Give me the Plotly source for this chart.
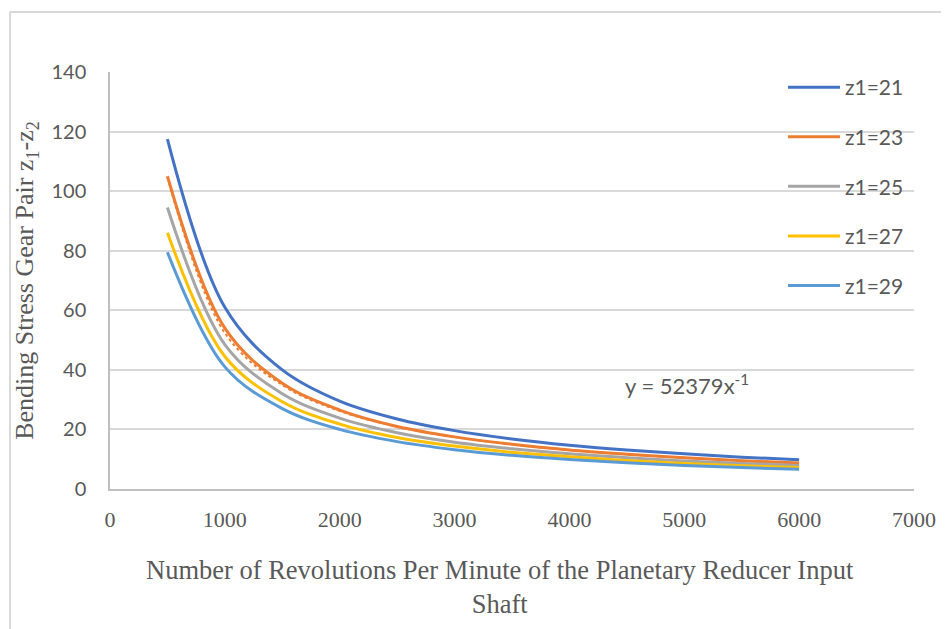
import plotly.graph_objects as go

# ---- data ----
rpm = [500, 1000, 1500, 2000, 2500, 3000, 3500, 4000, 4500, 5000, 5500, 6000]

z21 = [117.5, 61.0, 40.0, 29.5, 23.5, 19.6, 16.8, 14.7, 13.1, 11.8, 10.7, 9.8]
z23 = [105.0, 54.0, 35.5, 26.5, 21.0, 17.5, 15.0, 13.1, 11.7, 10.5, 9.5, 8.7]
z25 = [94.5, 48.5, 32.0, 23.8, 18.9, 15.7, 13.5, 11.8, 10.5, 9.4, 8.6, 7.9]
z27 = [86.0, 44.5, 29.3, 21.8, 17.3, 14.4, 12.3, 10.8, 9.6, 8.6, 7.8, 7.2]
z29 = [79.5, 41.0, 27.0, 20.0, 15.9, 13.2, 11.3, 9.9, 8.8, 7.9, 7.2, 6.6]

series_names = ["z1=21", "z1=23", "z1=25", "z1=27", "z1=29"]
series_values = [z21, z23, z25, z27, z29]
colors = ["#4472C4", "#ED7D31", "#A5A5A5", "#FFC000", "#5B9BD5"]

# power trendline shown on the z1=23 series (from the equation on the chart)
trend_coef = 52379
trend_vals = [trend_coef / x for x in rpm]

x_ticks = [0, 1000, 2000, 3000, 4000, 5000, 6000, 7000]
y_ticks = [0, 20, 40, 60, 80, 100, 120, 140]

fig = go.Figure()

for i, (name, vals, col) in enumerate(zip(series_names, series_values, colors)):
    fig.add_trace(go.Scatter(
        x=rpm, y=vals, name=name, mode="lines",
        line=dict(color=col, width=3, shape="spline"),
        legendgroup=name,
    ))
    if i == 1:
        fig.add_trace(go.Scatter(
            x=rpm, y=trend_vals, mode="lines", showlegend=False,
            line=dict(color="#ED7D31", width=2, dash="dot", shape="spline"),
            hoverinfo="skip",
        ))

# page body has an 8px offset; figure sized to fit the 949x629 window
W, H = 941, 621
L, R, T, B = 102, 35, 64, 140
pw = W - L - R
ph = H - T - B

def px2x(px):
    return (px - L) / pw

def py2y(py):
    return (H - B - py) / ph

grid = "#D9D9D9"
axis_col = "#BFBFBF"

fig.update_layout(
    width=W, height=H,
    margin=dict(l=L, r=R, t=T, b=B),
    paper_bgcolor="white", plot_bgcolor="white",
    showlegend=True,
    legend=dict(
        x=px2x(775), y=py2y(59), xanchor="left", yanchor="top",
        bgcolor="rgba(0,0,0,0)",
        font=dict(family="Lato, sans-serif", size=21, color="#595959"),
        tracegroupgap=19.3,
        itemwidth=52,
    ),
    xaxis=dict(
        range=[0, 7000], tickvals=x_ticks,
        showgrid=False, zeroline=False,
        showline=True, linecolor=axis_col, linewidth=1.5,
        ticks="outside", ticklen=10, tickcolor="rgba(0,0,0,0)",
        tickfont=dict(family="Liberation Serif, serif", size=22, color="#595959"),
    ),
    yaxis=dict(
        range=[0, 140], tickvals=y_ticks,
        showgrid=True, gridcolor=grid, gridwidth=1.5,
        zeroline=False,
        showline=True, linecolor=axis_col, linewidth=1.5,
        ticks="outside", ticklen=18, tickcolor="rgba(0,0,0,0)",
        tickfont=dict(family="Lato, sans-serif", size=20, color="#595959"),
        title=dict(
            text="Bending Stress Gear Pair z<sub>1</sub>-z<sub>2</sub>",
            font=dict(family="Liberation Serif, serif", size=26, color="#595959"),
            standoff=10,
        ),
    ),
    annotations=[
        dict(
            x=4470, y=35, xref="x", yref="y", xanchor="left", yanchor="middle",
            text="y = 52379x<sup>-1</sup>", showarrow=False,
            font=dict(family="Lato, sans-serif", size=22, color="#595959"),
        ),
        # x-axis title (centred on the chart area as in the reference)
        dict(
            x=px2x(492), y=py2y(545), xref="paper", yref="paper",
            xanchor="center", yanchor="top", showarrow=False,
            text="Number of Revolutions Per Minute of the Planetary Reducer Input<br>Shaft",
            font=dict(family="Liberation Serif, serif", size=26.5, color="#595959"),
        ),
    ],
    shapes=[
        dict(type="line", xref="paper", yref="paper",
             x0=px2x(2), x1=px2x(2), y0=py2y(4), y1=py2y(640),
             line=dict(color=grid, width=2)),
        dict(type="line", xref="paper", yref="paper",
             x0=px2x(2), x1=px2x(960), y0=py2y(4), y1=py2y(4),
             line=dict(color=grid, width=2)),
    ],
)

fig.write_html("out.html")
